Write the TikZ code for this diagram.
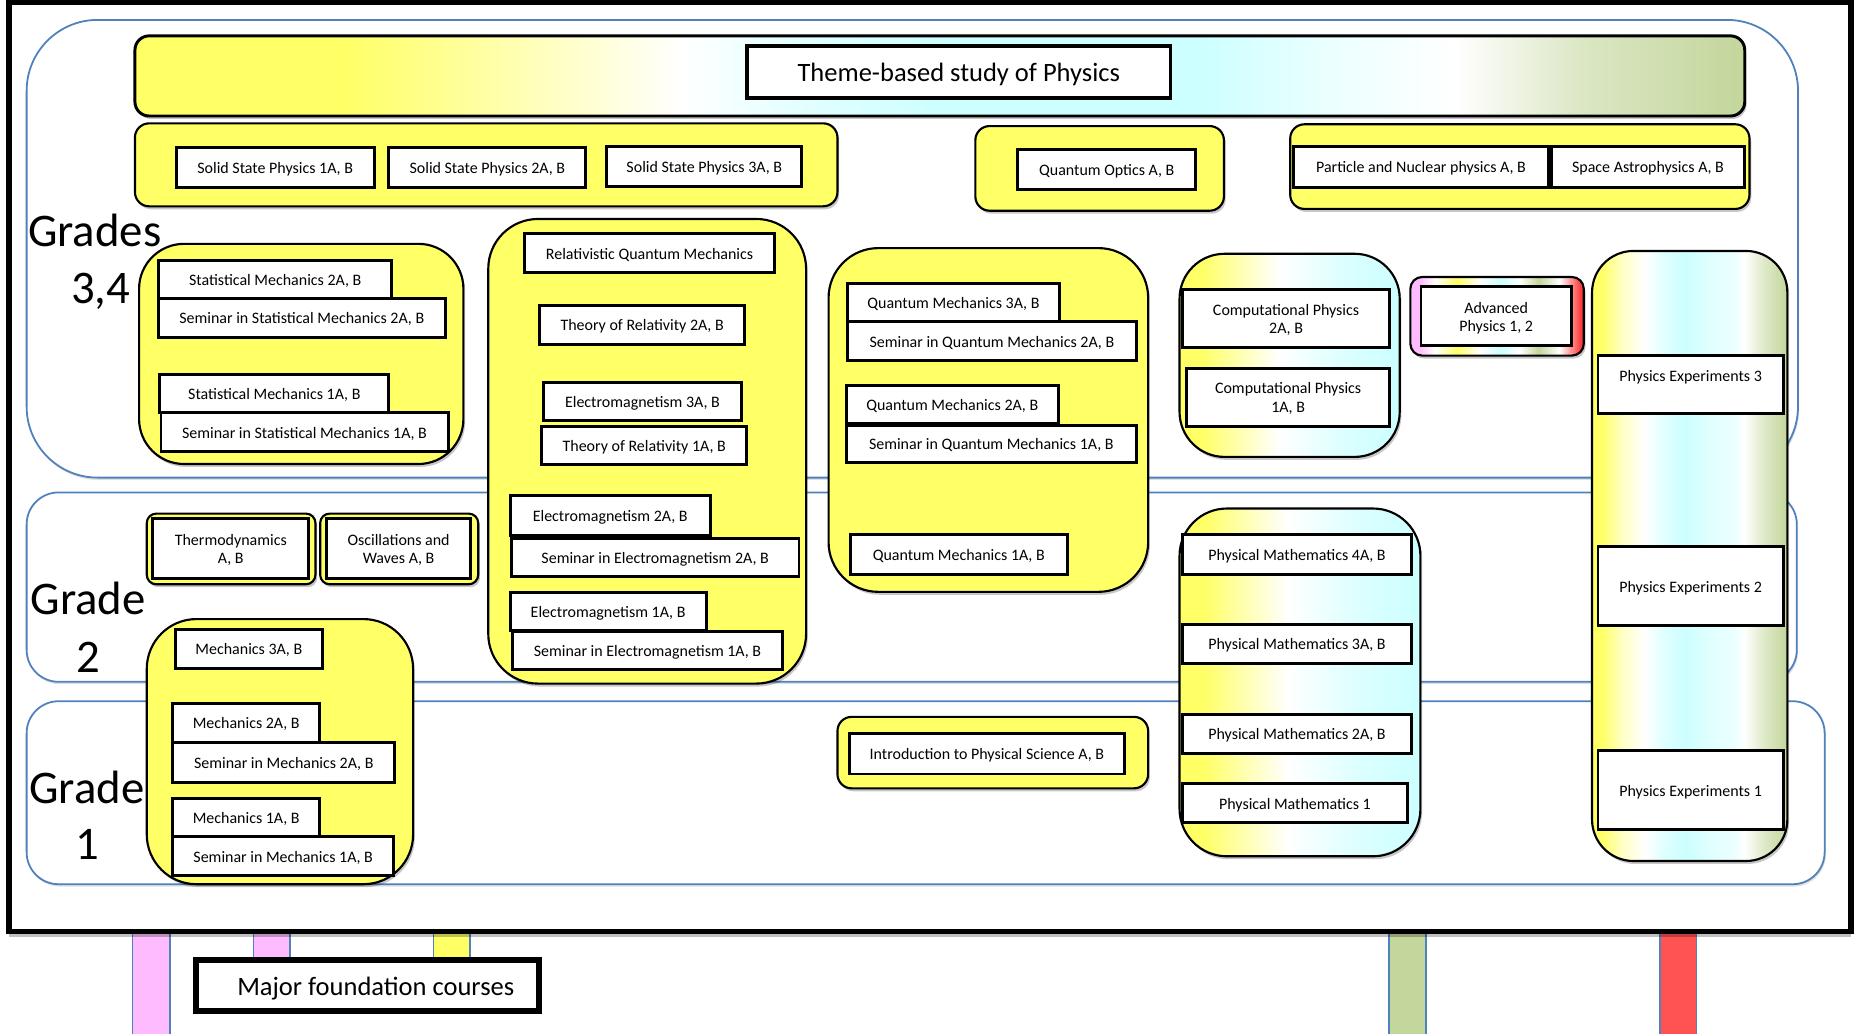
\documentclass[tikz,border=0pt]{standalone}
\usepackage{fontspec}
\setmainfont{Carlito}
\usetikzlibrary{shadows}
\definecolor{yel}{RGB}{255,255,102}
\definecolor{cyanL}{RGB}{204,255,255}
\definecolor{grn}{RGB}{195,214,155}
\definecolor{pinkc}{RGB}{255,187,255}
\definecolor{redc}{RGB}{255,82,82}
\definecolor{redA}{RGB}{255,60,60}
\definecolor{blueL}{RGB}{79,129,189}
\colorlet{yelA}{yel!30!white}
\colorlet{yelB}{yel!40!white}
\colorlet{cyA}{cyanL!60!white}
\colorlet{cyB}{cyanL!40!white}
\colorlet{cyC}{cyanL!70!white}
\colorlet{grA}{grn!60!white}
\colorlet{grB}{grn!50!white}
\pgfdeclarehorizontalshading{rainbar}{100bp}{color(0bp)=(yel); color(25bp)=(yel); color(31.5bp)=(yel); color(39bp)=(yelA); color(42bp)=(white); color(46bp)=(cyA); color(50bp)=(cyanL); color(58bp)=(cyanL); color(62bp)=(cyB); color(66bp)=(white); color(70bp)=(grA); color(75bp)=(grn); color(100bp)=(grn)}
\pgfdeclarehorizontalshading{pegrad}{100bp}{color(0bp)=(yel); color(25bp)=(yel); color(27.5bp)=(yel); color(32.5bp)=(yelB); color(38.5bp)=(white); color(43bp)=(cyA); color(49bp)=(cyanL); color(55bp)=(cyA); color(61.5bp)=(cyB); color(64bp)=(white); color(68.5bp)=(grB); color(75bp)=(grn); color(100bp)=(grn)}
\pgfdeclarehorizontalshading{ywc}{100bp}{color(0bp)=(yel); color(25bp)=(yel); color(30bp)=(yel); color(47.5bp)=(white); color(62.5bp)=(cyC); color(75bp)=(cyanL); color(100bp)=(cyanL)}
\pgfdeclarehorizontalshading{advgrad}{100bp}{color(0bp)=(pinkc); color(25bp)=(pinkc); color(27.5bp)=(pinkc); color(32bp)=(white); color(38.5bp)=(yel); color(45bp)=(white); color(51bp)=(cyanL); color(56.5bp)=(white); color(62bp)=(grn); color(68bp)=(white); color(74bp)=(redA); color(75bp)=(redA); color(100bp)=(redA)}
\newcommand\cfsmall{\fontsize{13.5}{15.5}\selectfont}
\newcommand\cfbig{\fontsize{22.4}{26}\selectfont}
\newcommand\cfgrade{\fontsize{39.5}{45}\selectfont}
\newcommand\TS{\rule{0pt}{13.5pt}}
\newcommand\BS{\rule[-3.5pt]{0pt}{3.5pt}}
\newcommand\BX[7]{%
 \pgfmathsetmacro\bxcx{(#3+#5)/2}%
 \pgfmathsetmacro\bxcy{(#4+#6)/2}%
 \pgfmathsetmacro\bxw{#5-#3}%
 \pgfmathsetmacro\bxh{#6-#4}%
 \node[#1, minimum width=\bxw pt, minimum height=\bxh pt] (#2) at (\bxcx,\bxcy) {#7};}
\tikzset{
 softshadow/.style={drop shadow={shadow xshift=1.5pt, shadow yshift=-2.5pt, opacity=0.22, fill=black}},
 wbase/.style={draw=black, line width=2.5pt, fill=white, inner sep=0pt, align=center, font=\cfsmall},
 wbox/.style={wbase, text height=13.5pt, text depth=3.5pt},
 wmulti/.style={wbase},
 wbig/.style={wbase, font=\cfbig, text height=22.4pt, text depth=5.8pt},
 grp/.style={draw=black, line width=1.8pt, inner sep=0pt, softshadow},
 ygrp/.style={grp, fill=yel},
 region/.style={draw=blueL, line width=1.5pt, fill=white, inner sep=0pt, drop shadow={shadow xshift=1pt, shadow yshift=-2pt, opacity=0.12, fill=black}},
 colbar/.style={draw=blueL, line width=1.2pt, inner sep=0pt},
 outerframe/.style={draw=black, line width=4.8pt, fill=white, inner sep=0pt, drop shadow={shadow xshift=0pt, shadow yshift=-5pt, opacity=0.25, fill=black}},
 gradelabel/.style={font=\cfgrade, anchor=base, inner sep=0pt, yshift=-2pt}
}
\begin{document}
\begin{tikzpicture}[x=1pt,y=-1pt]
\useasboundingbox (0,0) rectangle (1568,873);
\fill[white] (0,0) rectangle (1568,873);
% colour bars below the frame
\BX{colbar, fill=pinkc}{barA}{112}{780}{143.6}{880}{}
\BX{colbar, fill=pinkc}{barB}{214}{780}{245}{830}{}
\BX{colbar, fill=yel}{barC}{366}{780}{397}{830}{}
\BX{colbar, fill=grn}{barD}{1173.5}{780}{1204.7}{880}{}
\BX{colbar, fill=redc}{barE}{1402.4}{780}{1433.4}{880}{}
% outer frame
\BX{outerframe}{frm}{7.5}{1.7}{1564}{787}{}
% grade regions
\BX{region, rounded corners=60pt}{regA}{22.5}{16.8}{1519}{403.5}{}
\BX{region, rounded corners=27pt}{regB}{22.5}{416}{1518}{576}{}
\BX{region, rounded corners=27pt}{regC}{22.5}{592.4}{1541.5}{747}{}
% grade labels
\node[gradelabel] (gA) at (80,206) {Grades};
\node[gradelabel] (gAn) at (85,254) {3,4};
\node[gradelabel] (gB) at (74.5,517.2) {Grade};
\node[gradelabel] (gBn) at (74.5,566) {2};
\node[gradelabel] (gC) at (73.5,676.6) {Grade};
\node[gradelabel] (gCn) at (73.7,724) {1};
% theme bar
\BX{grp, shading=rainbar, line width=2.5pt, rounded corners=12pt}{theme}{114}{30.3}{1474}{98}{}
\BX{wbig, line width=3pt}{title}{631}{38.7}{989}{82.7}{Theme-based study of Physics}
% top row groups
\BX{ygrp, rounded corners=12pt}{ssgrp}{114}{104.2}{707.5}{174.3}{}
\BX{wbox}{ssp1}{149}{124.7}{316}{158.3}{Solid State Physics 1A, B}
\BX{wbox}{ssp2}{328.5}{124.7}{495}{158.3}{Solid State Physics 2A, B}
\BX{wbox}{ssp3}{512.5}{124}{677.5}{157.7}{Solid State Physics 3A, B}
\BX{ygrp, rounded corners=12pt}{qogrp}{824}{106.5}{1034}{178}{}
\BX{wbox}{qo}{860}{126}{1010}{159.7}{Quantum Optics A, B}
\BX{ygrp, rounded corners=12pt}{pngrp}{1090}{105}{1478}{176.5}{}
\BX{wbox}{pn}{1093}{124}{1308}{158.3}{Particle and Nuclear physics A, B}
\BX{wbox}{sa}{1310.5}{124}{1474}{158.3}{Space Astrophysics A, B}
% statistical mechanics
\BX{ygrp, rounded corners=38pt}{smgrp}{117.5}{206}{391.5}{392}{}
\BX{wbox}{smB}{134}{220}{331}{252}{Statistical Mechanics 2A, B}
\BX{wbox}{ssmB}{134}{252}{376}{285}{Seminar in Statistical Mechanics 2A, B}
\BX{wbox}{smA}{135}{316.6}{328.5}{348.8}{Statistical Mechanics 1A, B}
\BX{wbox}{ssmA}{136}{348.8}{378.5}{381.6}{Seminar in Statistical Mechanics 1A, B}
% relativity / electromagnetism
\BX{ygrp, rounded corners=42pt}{relgrp}{412.5}{185}{681}{577.5}{}
\BX{wbox}{rqm}{443.5}{197.5}{654}{230.3}{Relativistic Quantum Mechanics}
\BX{wbox}{torB}{456}{257.8}{629}{290.8}{Theory of Relativity 2A, B}
\BX{wbox}{emC}{459}{322.8}{626.5}{355.3}{Electromagnetism 3A, B}
\BX{wbox}{torA}{457.5}{360.6}{631}{392.8}{Theory of Relativity 1A, B}
\BX{wbox}{emB}{431}{418.9}{600}{452.6}{Electromagnetism 2A, B}
\BX{wbox}{semB}{432}{454.6}{675}{487.3}{Seminar in Electromagnetism 2A, B}
\BX{wbox}{emA}{431}{500.5}{596.5}{533}{Electromagnetism 1A, B}
\BX{wbox}{semA}{433}{533.8}{661}{566}{Seminar in Electromagnetism 1A, B}
% quantum mechanics
\BX{ygrp, rounded corners=42pt}{qmgrp}{700}{209.6}{970}{500}{}
\BX{wbox}{qmC}{716}{239.6}{895}{271.2}{Quantum Mechanics 3A, B}
\BX{wbox}{sqmB}{716}{271.8}{960}{304.6}{Seminar in Quantum Mechanics 2A, B}
\BX{wbox}{qmB}{715}{325.6}{894}{357.8}{Quantum Mechanics 2A, B}
\BX{wbox}{sqmA}{715}{359.2}{960}{390.9}{Seminar in Quantum Mechanics 1A, B}
\BX{wbox}{qmA}{718.5}{451.7}{901.5}{485}{Quantum Mechanics 1A, B}
% computational physics
\BX{grp, shading=ywc, rounded corners=38pt}{cpgrp}{996.5}{214.4}{1182.5}{386}{}
\BX{wmulti}{cpB}{999}{244.3}{1174}{293.6}{\TS Computational Physics\\2A, B\BS}
\BX{wmulti}{cpA}{1002.5}{311}{1174}{360}{\TS Computational Physics\\1A, B\BS}
% advanced physics
\BX{grp, shading=advgrad, rounded corners=10pt}{advgrp}{1191.5}{234}{1338}{300.4}{}
\BX{wmulti}{adv}{1200.5}{242.4}{1327.5}{292}{\TS Advanced\\Physics 1, 2\BS}
% physics experiments
\BX{grp, shading=pegrad, rounded corners=35pt}{pegrp}{1345}{212}{1510}{727.4}{}
\BX{wmulti}{peC}{1350}{300.4}{1506.5}{349.7}{\TS Physics Experiments 3\\\mbox{}\BS}
\BX{wbox}{peB}{1350}{462}{1506.5}{528.7}{Physics Experiments 2}
\BX{wbox}{peA}{1350}{634.4}{1506.5}{701}{Physics Experiments 1}
% physical mathematics
\BX{grp, shading=ywc, rounded corners=40pt}{pmgrp}{996.5}{429.6}{1200}{723.4}{}
\BX{wbox}{pmD}{999}{451.7}{1192.5}{485}{Physical Mathematics 4A, B}
\BX{wbox}{pmC}{999}{527.2}{1192.5}{560.3}{Physical Mathematics 3A, B}
\BX{wbox}{pmB}{999}{603.3}{1192.5}{636.4}{Physical Mathematics 2A, B}
\BX{wbox}{pmA}{999}{662.2}{1189}{695.2}{Physical Mathematics 1}
% thermodynamics, oscillations
\BX{ygrp, rounded corners=8pt}{thgrp}{124}{433.9}{266.5}{493.6}{}
\BX{wmulti}{th}{129}{438.2}{261}{488.5}{\TS Thermodynamics\\A, B\BS}
\BX{ygrp, rounded corners=8pt}{osgrp}{270.5}{433.9}{404}{493.6}{}
\BX{wmulti}{os}{276}{438.2}{397.5}{488.5}{\TS Oscillations and\\Waves A, B\BS}
% mechanics
\BX{ygrp, rounded corners=42pt}{megrp}{124}{523}{349}{747}{}
\BX{wbox}{meC}{148}{531.5}{272.5}{564.6}{Mechanics 3A, B}
\BX{wbox}{meB}{146}{594.1}{270}{626.9}{Mechanics 2A, B}
\BX{wbox}{smeB}{146}{626.9}{333.5}{660.8}{Seminar in Mechanics 2A, B}
\BX{wbox}{meA}{146}{674.6}{270}{706.7}{Mechanics 1A, B}
\BX{wbox}{smeA}{146}{706.7}{332.5}{739.8}{Seminar in Mechanics 1A, B}
% introduction
\BX{ygrp, rounded corners=12pt}{ingrp}{707.5}{605.6}{970}{666}{}
\BX{wbox}{intro}{717.5}{620}{950}{653.9}{Introduction to Physical Science A, B}
% major foundation courses
\BX{wbig, line width=4.8pt}{major}{165.7}{811.2}{455.2}{854.2}{\hspace*{14pt}Major foundation courses}
\end{tikzpicture}
\end{document}
